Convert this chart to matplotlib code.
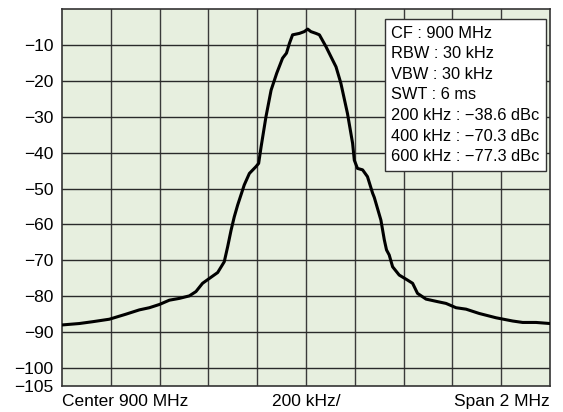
import numpy as np
import matplotlib
matplotlib.use('Agg')
import matplotlib.pyplot as plt

# =======================
# Data
# =======================
offset_khz = [-1000, -929, -875, -806, -738, -683, -642, -601, -560, -519,
              -478, -451, -424, -389, -362, -335, -321, -307, -294, -280,
              -253, -232, -205, -194, -184, -164, -143, -120, -96, -80,
              -68, -55, -27, -7, 7, 20, 41, 55, 82, 109,
              123, 143, 170, 191, 198, 211, 232, 252, 273, 280,
              307, 321, 330, 341, 355, 382, 416, 437, 457, 492,
              539, 574, 615, 656, 710, 779, 847, 888, 943, 1000]
level_db = [-88.0, -87.6, -87.1, -86.4, -85.0, -83.8, -83.2, -82.3, -81.1, -80.6,
            -79.9, -78.7, -76.4, -74.7, -73.4, -70.4, -66.2, -61.6, -57.9, -54.6,
            -49.0, -45.8, -43.9, -43.0, -38.4, -30.0, -22.6, -17.9, -13.7, -12.3,
            -9.6, -7.2, -6.8, -6.3, -5.6, -6.3, -6.8, -7.2, -10.5, -14.2,
            -16.1, -20.7, -29.1, -37.4, -42.1, -44.4, -44.8, -46.7, -51.3, -52.5,
            -58.8, -64.3, -67.1, -68.5, -71.8, -74.1, -75.5, -76.4, -79.2, -80.8,
            -81.5, -82.0, -83.2, -83.6, -84.8, -86.0, -86.9, -87.3, -87.3, -87.6]

y_ticks = [-10, -20, -30, -40, -50, -60, -70, -80, -90, -100, -105]
info_lines = ['CF : 900 MHz', 'RBW : 30 kHz', 'VBW : 30 kHz', 'SWT : 6 ms',
              '200 kHz : \u221238.6 dBc', '400 kHz : \u221270.3 dBc',
              '600 kHz : \u221277.3 dBc']

plt.rcParams['font.family'] = ['Liberation Sans', 'DejaVu Sans']

# =======================
# Plot
# =======================
fig = plt.figure(figsize=(5.63, 4.12), dpi=100)
ax = fig.add_axes([0.1101, 0.0631, 0.8668, 0.9151])
ax.set_facecolor('#e7efdf')

ax.plot(offset_khz, level_db, color='black', lw=2.2, zorder=3)

ax.set_xlim(-1000, 1000)
ax.set_ylim(-105, 0)
ax.set_xticks(list(range(-1000, 1001, 200)))
ax.set_xticklabels([])
ax.set_yticks(y_ticks)
ax.set_yticklabels([f'\u2212{abs(v)}' for v in y_ticks], fontsize=12.5)
ax.tick_params(axis='both', length=0, pad=6)

for v in range(-800, 1000, 200):
    ax.axvline(v, color='#3a3a3a', lw=1.0, zorder=1)
for v in range(-100, 0, 10):
    ax.axhline(v, color='#2a2a2a', lw=1.0, zorder=1)

for s in ax.spines.values():
    s.set_color('#333333')
    s.set_linewidth(1.2)

ax.text(0.0, -0.02, 'Center 900 MHz', transform=ax.transAxes,
        ha='left', va='top', fontsize=12.5)
ax.text(0.5, -0.02, '200 kHz/', transform=ax.transAxes,
        ha='center', va='top', fontsize=12.5)
ax.text(1.0, -0.02, 'Span 2 MHz', transform=ax.transAxes,
        ha='right', va='top', fontsize=12.5)

ax.text(0.6752, 0.956, '\n'.join(info_lines), transform=ax.transAxes,
        ha='left', va='top', fontsize=11.8, linespacing=1.47, zorder=5,
        bbox=dict(boxstyle='square,pad=0.38', facecolor='white',
                  edgecolor='#333333', linewidth=1.0))

fig.savefig('out.png', dpi=100)
